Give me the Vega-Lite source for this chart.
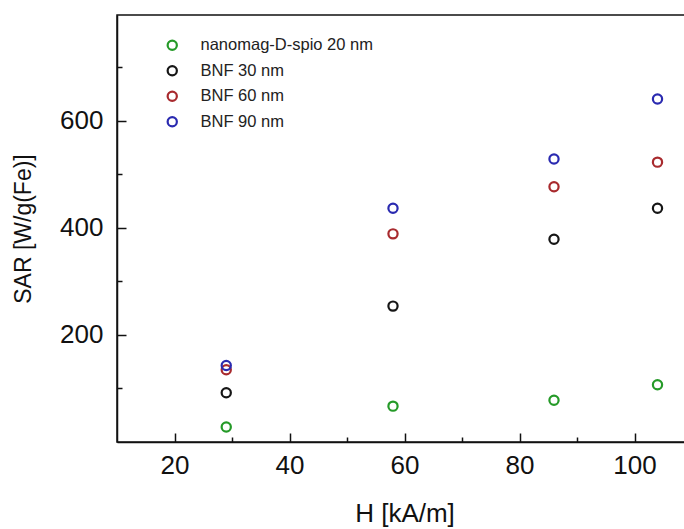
{
  "$schema": "https://vega.github.io/schema/vega-lite/v6.json",
  "width": 575,
  "height": 427,
  "autosize": {"type": "none"},
  "padding": {"left": 117, "top": 15, "right": 0, "bottom": 87},
  "background": "white",
  "config": {
    "font": "Liberation Sans",
    "view": {"stroke": "#111", "strokeWidth": 1.5}
  },
  "data": {
    "values": [
      {"H": 29, "SAR": 28, "sample": "nanomag-D-spio 20 nm"},
      {"H": 58, "SAR": 67, "sample": "nanomag-D-spio 20 nm"},
      {"H": 86, "SAR": 78, "sample": "nanomag-D-spio 20 nm"},
      {"H": 104, "SAR": 107, "sample": "nanomag-D-spio 20 nm"},
      {"H": 29, "SAR": 92, "sample": "BNF 30 nm"},
      {"H": 58, "SAR": 254, "sample": "BNF 30 nm"},
      {"H": 86, "SAR": 379, "sample": "BNF 30 nm"},
      {"H": 104, "SAR": 437, "sample": "BNF 30 nm"},
      {"H": 29, "SAR": 135, "sample": "BNF 60 nm"},
      {"H": 58, "SAR": 389, "sample": "BNF 60 nm"},
      {"H": 86, "SAR": 477, "sample": "BNF 60 nm"},
      {"H": 104, "SAR": 523, "sample": "BNF 60 nm"},
      {"H": 29, "SAR": 143, "sample": "BNF 90 nm"},
      {"H": 58, "SAR": 437, "sample": "BNF 90 nm"},
      {"H": 86, "SAR": 529, "sample": "BNF 90 nm"},
      {"H": 104, "SAR": 641, "sample": "BNF 90 nm"}
    ]
  },
  "mark": {"type": "point", "shape": "circle", "filled": false, "size": 85, "strokeWidth": 2.2, "opacity": 1},
  "encoding": {
    "x": {
      "field": "H",
      "type": "quantitative",
      "scale": {"domain": [10, 110], "nice": false, "zero": false},
      "axis": {
        "title": "H [kA/m]",
        "values": [20, 30, 40, 50, 60, 70, 80, 90, 100],
        "labelExpr": "datum.value % 20 === 0 ? datum.label : ''",
        "grid": false,
        "domainColor": "#111",
        "domainWidth": 1.5,
        "tickColor": "#111",
        "tickWidth": 1.5,
        "tickSize": {"condition": {"test": "datum.value % 20 === 0", "value": -9}, "value": -5},
        "labelFontSize": 26,
        "labelColor": "#111",
        "labelPadding": 19,
        "titleFontSize": 26,
        "titleFontWeight": "normal",
        "titleColor": "#111",
        "titlePadding": 22
      }
    },
    "y": {
      "field": "SAR",
      "type": "quantitative",
      "scale": {"domain": [0, 798], "nice": false},
      "axis": {
        "title": "SAR [W/g(Fe)]",
        "values": [100, 200, 300, 400, 500, 600, 700],
        "labelExpr": "datum.value % 200 === 0 ? datum.label : ''",
        "grid": false,
        "domainColor": "#111",
        "domainWidth": 1.5,
        "tickColor": "#111",
        "tickWidth": 1.5,
        "tickSize": {"condition": {"test": "datum.value % 200 === 0", "value": -9}, "value": -5},
        "labelFontSize": 26,
        "labelColor": "#111",
        "labelPadding": 23,
        "titleFontSize": 23,
        "titleFontWeight": "normal",
        "titleColor": "#111",
        "titlePadding": 24
      }
    },
    "color": {
      "field": "sample",
      "type": "nominal",
      "scale": {
        "domain": ["nanomag-D-spio 20 nm", "BNF 30 nm", "BNF 60 nm", "BNF 90 nm"],
        "range": ["#259a28", "#161616", "#a82a2e", "#2a2ab0"]
      },
      "legend": {
        "title": null,
        "orient": "none",
        "legendX": 47,
        "legendY": 22,
        "padding": 0,
        "labelFontSize": 16.5,
        "labelLimit": 400,
        "labelColor": "#222",
        "symbolSize": 85,
        "symbolStrokeWidth": 2.2,
        "symbolType": "circle",
        "symbolFillColor": "transparent",
        "symbolOpacity": 1,
        "labelOffset": 20,
        "rowPadding": 6.5
      }
    }
  }
}
